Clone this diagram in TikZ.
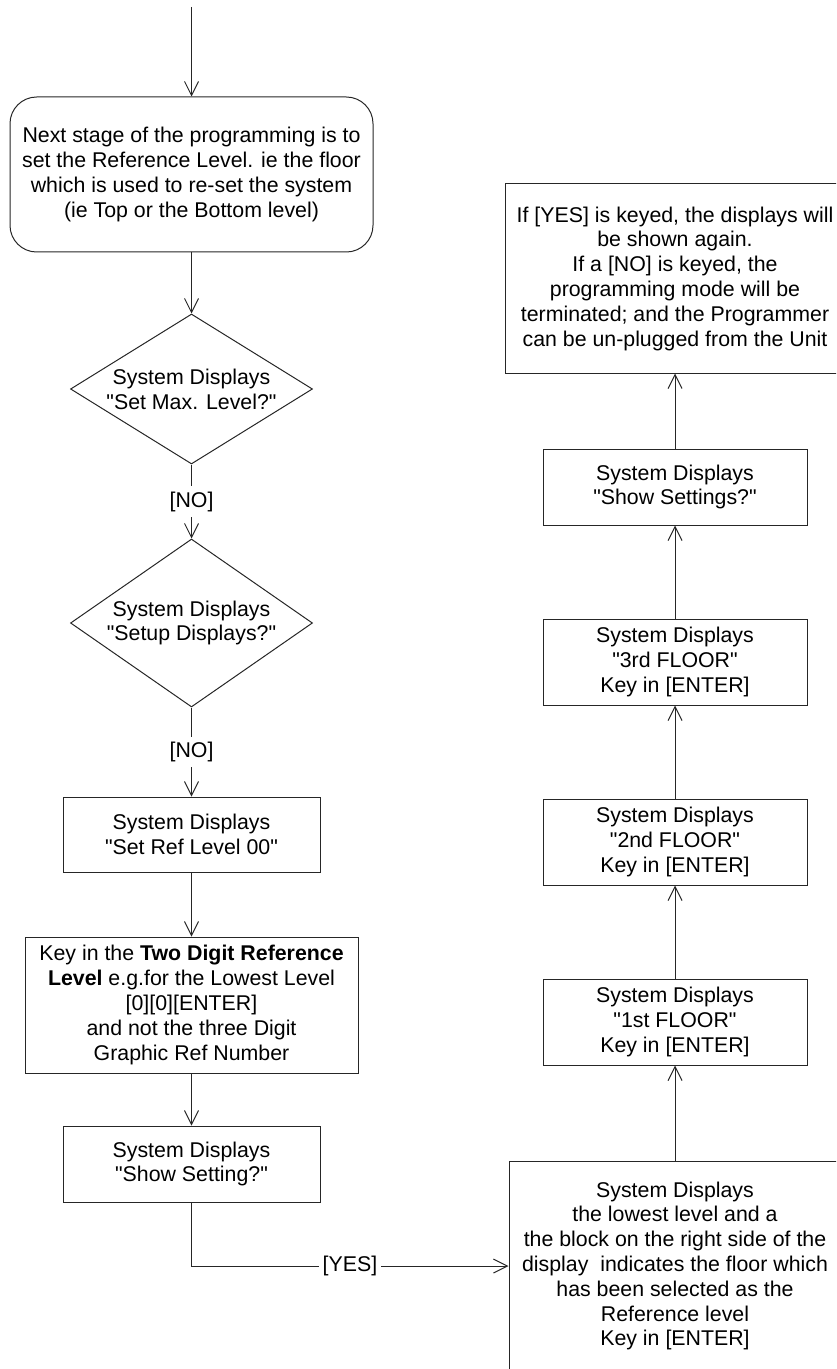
\documentclass[tikz,border=0pt]{standalone}
\usepackage{fontspec}
\setmainfont{Liberation Sans}[Ligatures=TeXOff]
\usetikzlibrary{arrows.meta,shapes.geometric}
\begin{document}
\begin{tikzpicture}[x=0.75pt,y=-0.75pt,
  every node/.style={font=\fontsize{16pt}{18.6pt}\selectfont, text=black},
  ln/.style={draw=black!85, line width=0.75pt},
  arr/.style={ln, -{Straight Barb[length=10.5pt,width=10.5pt,line width=0.75pt]}},
  proc/.style={ln, rectangle, align=center, inner sep=0pt},
  dec/.style={ln, diamond, align=center, inner sep=0pt, aspect=1.6, minimum width=181.5pt},
  term/.style={ln, rectangle, rounded corners=20pt, align=center, inner sep=0pt},
  lab/.style={fill=white, inner xsep=3pt, inner ysep=4pt}]
\useasboundingbox (0,0) rectangle (836,1369);
\clip (0,0) rectangle (836,1369);

% left column
\coordinate (in) at (191.5,7);
\node[term, minimum width=272.25pt, minimum height=116.25pt] (start) at (191.5,174.5)
  {Next stage of the programming is to\\set the Reference Level. ie the floor\\which is used to re-set the system\\(ie Top or the Bottom level)};
\node[dec, minimum height=112.5pt] (d1) at (191.5,389) {System Displays\\"Set Max. Level?"};
\node[dec, minimum height=126pt] (d2) at (191.5,623) {System Displays\\"Setup Displays?"};
\node[proc, minimum width=192.75pt, minimum height=56.25pt] (setref) at (191.5,834.5)
  {System Displays\\"Set Ref Level 00"};
\node[proc, minimum width=249.75pt, minimum height=102pt] (keyin) at (191.5,1005)
  {Key in the \textbf{Two Digit Reference}\\\textbf{Level} e.g.for the Lowest Level\\{}[0][0][ENTER]\\and not the three Digit\\Graphic Ref Number};
\node[proc, minimum width=192.75pt, minimum height=57pt] (show) at (191.5,1164)
  {System Displays\\"Show Setting?"};

% right column
\node[proc, minimum width=249pt, minimum height=157.5pt] (bbox) at (675,1266)
  {System Displays\\the lowest level and a\\the block on the right side of the\\display\ \ indicates the floor which\\has been selected as the\\Reference level\\Key in [ENTER]};
\node[proc, minimum width=198pt, minimum height=64.5pt] (f1) at (675,1022)
  {System Displays\\"1st FLOOR"\\Key in [ENTER]};
\node[proc, minimum width=198pt, minimum height=64.5pt] (f2) at (675,842)
  {System Displays\\"2nd FLOOR"\\Key in [ENTER]};
\node[proc, minimum width=198pt, minimum height=64.5pt] (f3) at (675,662)
  {System Displays\\"3rd FLOOR"\\Key in [ENTER]};
\node[proc, minimum width=198pt, minimum height=57pt] (showset) at (675,487)
  {System Displays\\"Show Settings?"};
\node[proc, minimum width=255pt, minimum height=141.75pt] (top) at (675,278.5)
  {If [YES] is keyed, the displays will\\be shown again.\\If a [NO] is keyed, the\\programming mode will be\\terminated; and the Programmer\\can be un-plugged from the Unit};

% connectors
\draw[arr] (in) -- (start);
\draw[arr] (start) -- (d1);
\draw[arr] (d1) -- node[lab]{[NO]} (d2);
\draw[arr] (d2) -- node[lab]{[NO]} (setref);
\draw[arr] (setref) -- (keyin);
\draw[arr] (keyin) -- (show);
\draw[arr] (show.south) |- node[lab, pos=0.75]{[YES]} (bbox.west);
\draw[arr] (bbox) -- (f1);
\draw[arr] (f1) -- (f2);
\draw[arr] (f2) -- (f3);
\draw[arr] (f3) -- (showset);
\draw[arr] (showset) -- (top);
\end{tikzpicture}
\end{document}
